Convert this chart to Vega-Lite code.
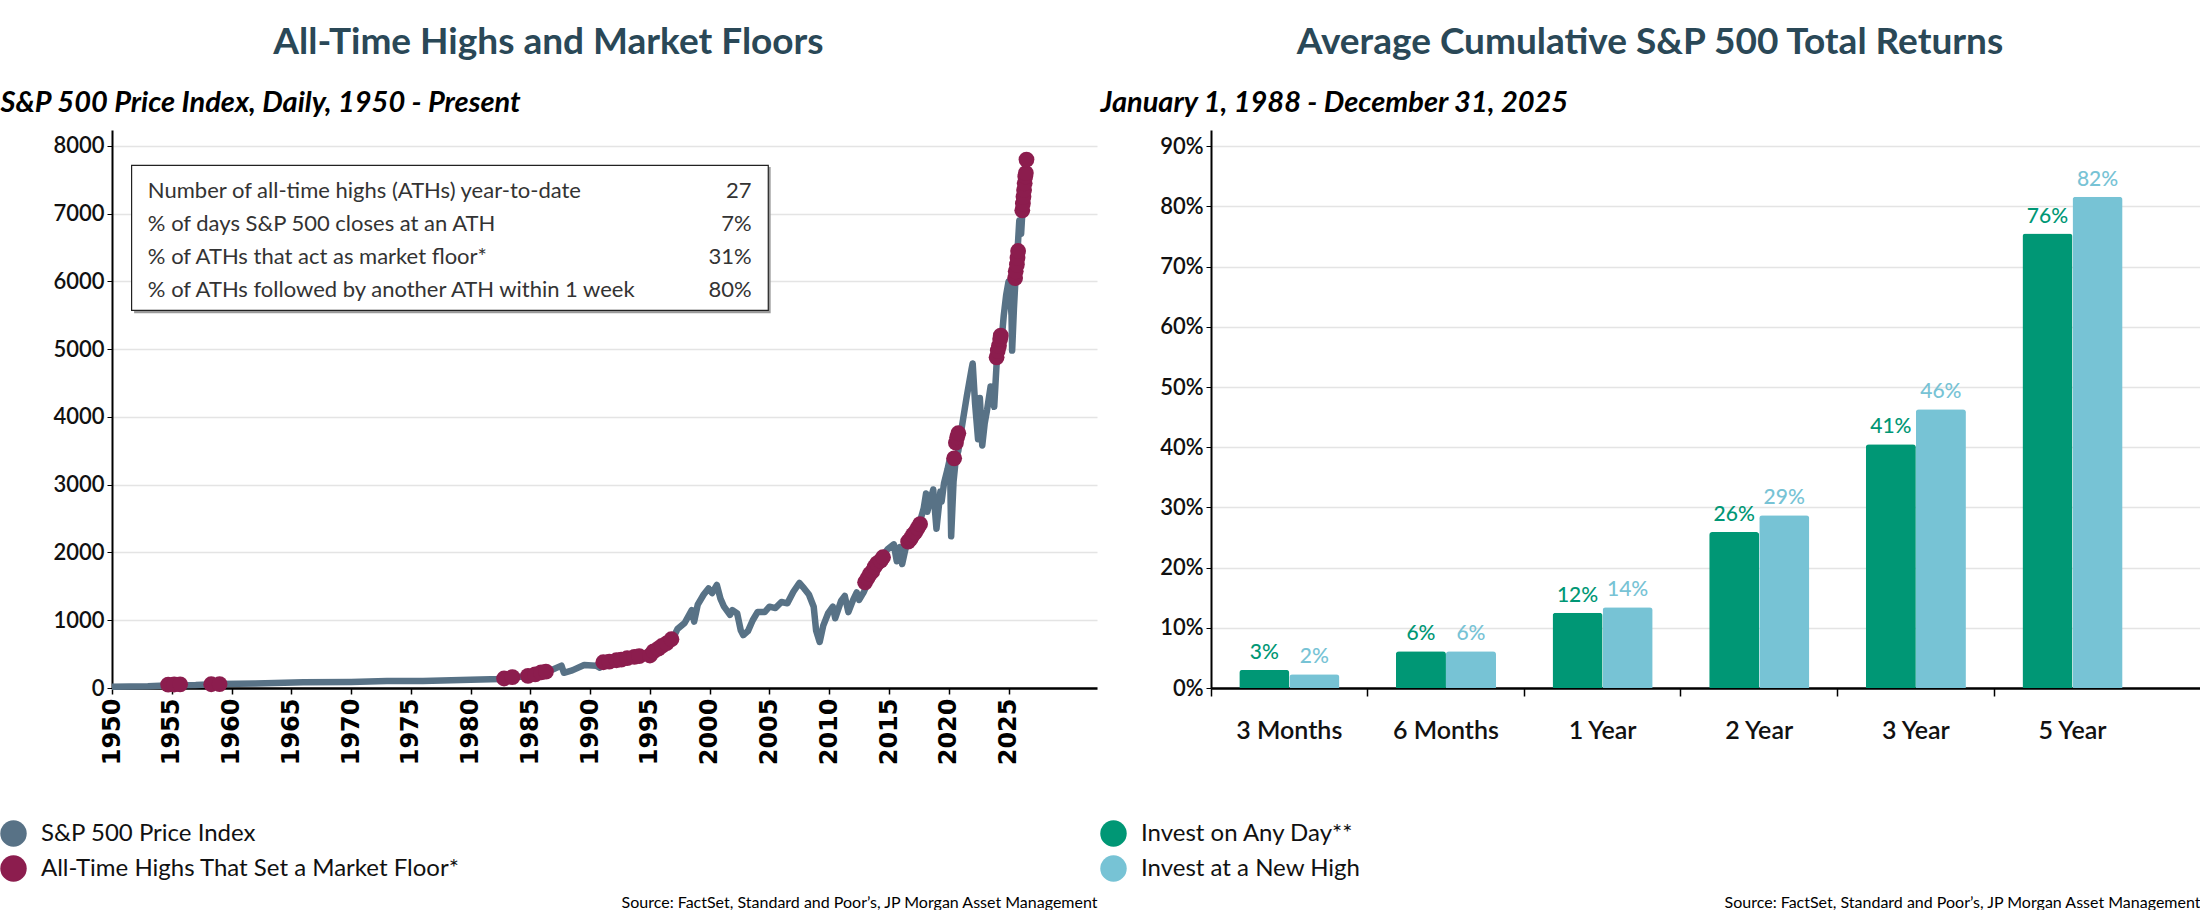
{
  "$schema": "https://vega.github.io/schema/vega-lite/v6.json",
  "padding": {"left": 0, "right": 0, "top": 24, "bottom": 0},
  "background": "white",
  "spacing": 3,
  "config": {
    "font": "Lato",
    "view": {"stroke": null},
    "axis": {"gridColor": "#e4e4e4", "gridWidth": 1.5, "domainColor": "#000", "tickColor": "#000", "labelColor": "#111", "titleColor": "#000"},
    "legend": {"padding": 0},
    "title": {"font": "Lato", "fontSize": 37, "fontWeight": "bold", "color": "#2a4857", "anchor": "middle", "frame": "bounds", "offset": 26}
  },
  "datasets": {
    "spx": [
      {"year": 1950.0, "value": 17}, {"year": 1953.0, "value": 25}, {"year": 1955.0, "value": 42}, {"year": 1957.0, "value": 45},
      {"year": 1959.0, "value": 58}, {"year": 1962.0, "value": 65}, {"year": 1966.0, "value": 85}, {"year": 1970.0, "value": 90},
      {"year": 1973.0, "value": 105}, {"year": 1976.0, "value": 105}, {"year": 1980.0, "value": 120}, {"year": 1982.5, "value": 132},
      {"year": 1983.5, "value": 165}, {"year": 1984.5, "value": 165}, {"year": 1985.0, "value": 180}, {"year": 1985.9, "value": 240},
      {"year": 1986.5, "value": 245}, {"year": 1987.6, "value": 330}, {"year": 1987.8, "value": 225}, {"year": 1988.5, "value": 260},
      {"year": 1989.5, "value": 340}, {"year": 1990.5, "value": 330}, {"year": 1990.8, "value": 300}, {"year": 1991.2, "value": 370},
      {"year": 1992.0, "value": 410}, {"year": 1993.0, "value": 450}, {"year": 1994.0, "value": 470}, {"year": 1994.9, "value": 460},
      {"year": 1995.5, "value": 560}, {"year": 1996.0, "value": 620}, {"year": 1996.5, "value": 680}, {"year": 1997.0, "value": 760},
      {"year": 1997.3, "value": 870}, {"year": 1997.9, "value": 960}, {"year": 1998.5, "value": 1150}, {"year": 1998.7, "value": 980},
      {"year": 1999.0, "value": 1230}, {"year": 1999.5, "value": 1380}, {"year": 1999.9, "value": 1470}, {"year": 2000.2, "value": 1400},
      {"year": 2000.6, "value": 1520}, {"year": 2000.9, "value": 1320}, {"year": 2001.2, "value": 1200}, {"year": 2001.7, "value": 1080},
      {"year": 2001.9, "value": 1150}, {"year": 2002.3, "value": 1100}, {"year": 2002.6, "value": 850}, {"year": 2002.8, "value": 780},
      {"year": 2003.2, "value": 840}, {"year": 2003.6, "value": 1000}, {"year": 2004.0, "value": 1120}, {"year": 2004.6, "value": 1120},
      {"year": 2005.0, "value": 1200}, {"year": 2005.5, "value": 1180}, {"year": 2006.0, "value": 1270}, {"year": 2006.5, "value": 1250},
      {"year": 2007.0, "value": 1420}, {"year": 2007.5, "value": 1550}, {"year": 2007.9, "value": 1470}, {"year": 2008.3, "value": 1380},
      {"year": 2008.7, "value": 1200}, {"year": 2008.9, "value": 850}, {"year": 2009.2, "value": 680}, {"year": 2009.5, "value": 920},
      {"year": 2009.9, "value": 1100}, {"year": 2010.3, "value": 1200}, {"year": 2010.5, "value": 1030}, {"year": 2011.0, "value": 1290},
      {"year": 2011.3, "value": 1360}, {"year": 2011.6, "value": 1120}, {"year": 2012.0, "value": 1300}, {"year": 2012.3, "value": 1410},
      {"year": 2012.5, "value": 1300}, {"year": 2012.9, "value": 1420}, {"year": 2013.3, "value": 1580}, {"year": 2013.6, "value": 1700},
      {"year": 2014.0, "value": 1850}, {"year": 2014.5, "value": 1960}, {"year": 2014.9, "value": 2050}, {"year": 2015.4, "value": 2120},
      {"year": 2015.65, "value": 1870}, {"year": 2015.9, "value": 2080}, {"year": 2016.1, "value": 1830}, {"year": 2016.5, "value": 2150},
      {"year": 2017.0, "value": 2270}, {"year": 2017.5, "value": 2400}, {"year": 2017.9, "value": 2650}, {"year": 2018.1, "value": 2870},
      {"year": 2018.2, "value": 2600}, {"year": 2018.7, "value": 2930}, {"year": 2018.97, "value": 2350}, {"year": 2019.3, "value": 2900},
      {"year": 2019.4, "value": 2750}, {"year": 2019.6, "value": 3020}, {"year": 2019.9, "value": 3230}, {"year": 2020.1, "value": 3390},
      {"year": 2020.2, "value": 2240}, {"year": 2020.4, "value": 3050}, {"year": 2020.6, "value": 3400}, {"year": 2020.8, "value": 3500},
      {"year": 2021.0, "value": 3750}, {"year": 2021.2, "value": 3970}, {"year": 2021.5, "value": 4300}, {"year": 2021.9, "value": 4700},
      {"year": 2022.0, "value": 4790}, {"year": 2022.2, "value": 4200}, {"year": 2022.45, "value": 3670}, {"year": 2022.6, "value": 4280},
      {"year": 2022.8, "value": 3580}, {"year": 2023.0, "value": 3900}, {"year": 2023.2, "value": 4100}, {"year": 2023.5, "value": 4450},
      {"year": 2023.8, "value": 4150}, {"year": 2024.0, "value": 4780}, {"year": 2024.1, "value": 5000}, {"year": 2024.25, "value": 5200},
      {"year": 2024.4, "value": 5100}, {"year": 2024.6, "value": 5500}, {"year": 2024.8, "value": 5800}, {"year": 2025.0, "value": 6000},
      {"year": 2025.1, "value": 5900}, {"year": 2025.25, "value": 5500}, {"year": 2025.3, "value": 4980}, {"year": 2025.45, "value": 5600},
      {"year": 2025.6, "value": 6100}, {"year": 2025.75, "value": 6450}, {"year": 2025.9, "value": 6900}, {"year": 2026.05, "value": 6700},
      {"year": 2026.15, "value": 7000}, {"year": 2026.3, "value": 7400}, {"year": 2026.45, "value": 7800}, {"year": 2026.55, "value": 7300},
      {"year": 2026.6, "value": 7450}
    ],
    "ath": [
      {"year": 1954.7, "value": 50, "series": "All-Time Highs That Set a Market Floor*"},
      {"year": 1955.2, "value": 52, "series": "All-Time Highs That Set a Market Floor*"},
      {"year": 1955.7, "value": 54, "series": "All-Time Highs That Set a Market Floor*"},
      {"year": 1958.3, "value": 55, "series": "All-Time Highs That Set a Market Floor*"},
      {"year": 1959.0, "value": 58, "series": "All-Time Highs That Set a Market Floor*"},
      {"year": 1982.8, "value": 140, "series": "All-Time Highs That Set a Market Floor*"},
      {"year": 1983.5, "value": 160, "series": "All-Time Highs That Set a Market Floor*"},
      {"year": 1984.8, "value": 180, "series": "All-Time Highs That Set a Market Floor*"},
      {"year": 1985.4, "value": 200, "series": "All-Time Highs That Set a Market Floor*"},
      {"year": 1985.9, "value": 230, "series": "All-Time Highs That Set a Market Floor*"},
      {"year": 1986.3, "value": 242, "series": "All-Time Highs That Set a Market Floor*"},
      {"year": 1991.1, "value": 380, "series": "All-Time Highs That Set a Market Floor*"},
      {"year": 1991.6, "value": 390, "series": "All-Time Highs That Set a Market Floor*"},
      {"year": 1992.2, "value": 410, "series": "All-Time Highs That Set a Market Floor*"},
      {"year": 1992.6, "value": 420, "series": "All-Time Highs That Set a Market Floor*"},
      {"year": 1993.1, "value": 440, "series": "All-Time Highs That Set a Market Floor*"},
      {"year": 1993.7, "value": 460, "series": "All-Time Highs That Set a Market Floor*"},
      {"year": 1994.1, "value": 470, "series": "All-Time Highs That Set a Market Floor*"},
      {"year": 1995.0, "value": 480, "series": "All-Time Highs That Set a Market Floor*"},
      {"year": 1995.3, "value": 540, "series": "All-Time Highs That Set a Market Floor*"},
      {"year": 1995.7, "value": 580, "series": "All-Time Highs That Set a Market Floor*"},
      {"year": 1996.0, "value": 620, "series": "All-Time Highs That Set a Market Floor*"},
      {"year": 1996.4, "value": 660, "series": "All-Time Highs That Set a Market Floor*"},
      {"year": 1996.8, "value": 720, "series": "All-Time Highs That Set a Market Floor*"},
      {"year": 2013.0, "value": 1560, "series": "All-Time Highs That Set a Market Floor*"},
      {"year": 2013.2, "value": 1620, "series": "All-Time Highs That Set a Market Floor*"},
      {"year": 2013.4, "value": 1680, "series": "All-Time Highs That Set a Market Floor*"},
      {"year": 2013.6, "value": 1720, "series": "All-Time Highs That Set a Market Floor*"},
      {"year": 2013.8, "value": 1790, "series": "All-Time Highs That Set a Market Floor*"},
      {"year": 2014.0, "value": 1840, "series": "All-Time Highs That Set a Market Floor*"},
      {"year": 2014.3, "value": 1880, "series": "All-Time Highs That Set a Market Floor*"},
      {"year": 2014.5, "value": 1930, "series": "All-Time Highs That Set a Market Floor*"},
      {"year": 2016.6, "value": 2160, "series": "All-Time Highs That Set a Market Floor*"},
      {"year": 2016.8, "value": 2200, "series": "All-Time Highs That Set a Market Floor*"},
      {"year": 2017.0, "value": 2260, "series": "All-Time Highs That Set a Market Floor*"},
      {"year": 2017.2, "value": 2300, "series": "All-Time Highs That Set a Market Floor*"},
      {"year": 2017.4, "value": 2360, "series": "All-Time Highs That Set a Market Floor*"},
      {"year": 2017.6, "value": 2420, "series": "All-Time Highs That Set a Market Floor*"},
      {"year": 2020.45, "value": 3390, "series": "All-Time Highs That Set a Market Floor*"},
      {"year": 2020.6, "value": 3620, "series": "All-Time Highs That Set a Market Floor*"},
      {"year": 2020.7, "value": 3700, "series": "All-Time Highs That Set a Market Floor*"},
      {"year": 2020.8, "value": 3760, "series": "All-Time Highs That Set a Market Floor*"},
      {"year": 2024.0, "value": 4880, "series": "All-Time Highs That Set a Market Floor*"},
      {"year": 2024.1, "value": 4980, "series": "All-Time Highs That Set a Market Floor*"},
      {"year": 2024.2, "value": 5050, "series": "All-Time Highs That Set a Market Floor*"},
      {"year": 2024.3, "value": 5150, "series": "All-Time Highs That Set a Market Floor*"},
      {"year": 2024.35, "value": 5200, "series": "All-Time Highs That Set a Market Floor*"},
      {"year": 2025.55, "value": 6050, "series": "All-Time Highs That Set a Market Floor*"},
      {"year": 2025.6, "value": 6150, "series": "All-Time Highs That Set a Market Floor*"},
      {"year": 2025.7, "value": 6250, "series": "All-Time Highs That Set a Market Floor*"},
      {"year": 2025.75, "value": 6350, "series": "All-Time Highs That Set a Market Floor*"},
      {"year": 2025.8, "value": 6450, "series": "All-Time Highs That Set a Market Floor*"},
      {"year": 2026.15, "value": 7050, "series": "All-Time Highs That Set a Market Floor*"},
      {"year": 2026.2, "value": 7150, "series": "All-Time Highs That Set a Market Floor*"},
      {"year": 2026.25, "value": 7250, "series": "All-Time Highs That Set a Market Floor*"},
      {"year": 2026.3, "value": 7350, "series": "All-Time Highs That Set a Market Floor*"},
      {"year": 2026.35, "value": 7450, "series": "All-Time Highs That Set a Market Floor*"},
      {"year": 2026.4, "value": 7550, "series": "All-Time Highs That Set a Market Floor*"},
      {"year": 2026.45, "value": 7600, "series": "All-Time Highs That Set a Market Floor*"},
      {"year": 2026.5, "value": 7800, "series": "All-Time Highs That Set a Market Floor*"}
    ],
    "stats": [
      {"rank": 1, "stat": "Number of all-time highs (ATHs) year-to-date", "figure": "27"},
      {"rank": 2, "stat": "% of days S&P 500 closes at an ATH", "figure": "7%"},
      {"rank": 3, "stat": "% of ATHs that act as market floor*", "figure": "31%"},
      {"rank": 4, "stat": "% of ATHs followed by another ATH within 1 week", "figure": "80%"}
    ],
    "returns": [
      {"period": "3 Months", "strategy": "Invest on Any Day**", "ret": 0.030, "label": "3%"},
      {"period": "3 Months", "strategy": "Invest at a New High", "ret": 0.023, "label": "2%"},
      {"period": "6 Months", "strategy": "Invest on Any Day**", "ret": 0.061, "label": "6%"},
      {"period": "6 Months", "strategy": "Invest at a New High", "ret": 0.061, "label": "6%"},
      {"period": "1 Year", "strategy": "Invest on Any Day**", "ret": 0.125, "label": "12%"},
      {"period": "1 Year", "strategy": "Invest at a New High", "ret": 0.134, "label": "14%"},
      {"period": "2 Year", "strategy": "Invest on Any Day**", "ret": 0.259, "label": "26%"},
      {"period": "2 Year", "strategy": "Invest at a New High", "ret": 0.287, "label": "29%"},
      {"period": "3 Year", "strategy": "Invest on Any Day**", "ret": 0.405, "label": "41%"},
      {"period": "3 Year", "strategy": "Invest at a New High", "ret": 0.463, "label": "46%"},
      {"period": "5 Year", "strategy": "Invest on Any Day**", "ret": 0.755, "label": "76%"},
      {"period": "5 Year", "strategy": "Invest at a New High", "ret": 0.816, "label": "82%"}
    ]
  },
  "hconcat": [
    {
      "title": {"text": "All-Time Highs and Market Floors"},
      "width": 985,
      "height": 558,
      "layer": [
        {
          "data": {"values": [{"box": "stats"}]},
          "mark": {"type": "rect", "fill": "#9a9a9a"},
          "encoding": {
            "x": {"datum": 1951.85, "type": "quantitative", "scale": {"domain": [1950, 2032.4], "nice": false, "zero": false}, "axis": null},
            "x2": {"datum": 2005.1},
            "y": {"datum": 7690, "type": "quantitative", "scale": {"domain": [0, 8236], "nice": false, "zero": false}, "axis": null},
            "y2": {"datum": 5530}
          }
        },
        {
          "data": {"values": [{"box": "stats"}]},
          "mark": {"type": "rect", "fill": "white", "stroke": "#222", "strokeWidth": 1.2},
          "encoding": {
            "x": {"datum": 1951.64, "type": "quantitative", "scale": {"domain": [1950, 2032.4], "nice": false, "zero": false}, "axis": null},
            "x2": {"datum": 2004.9},
            "y": {"datum": 7714, "type": "quantitative", "scale": {"domain": [0, 8236], "nice": false, "zero": false}, "axis": null},
            "y2": {"datum": 5575}
          }
        },
        {
          "data": {"name": "spx"},
          "mark": {"type": "line", "color": "#587286", "strokeWidth": 6.5, "strokeJoin": "round"},
          "encoding": {
            "x": {
              "field": "year", "type": "quantitative",
              "scale": {"domain": [1950, 2032.4], "nice": false, "zero": false},
              "axis": {
                "values": [1950, 1955, 1960, 1965, 1970, 1975, 1980, 1985, 1990, 1995, 2000, 2005, 2010, 2015, 2020, 2025],
                "format": "d", "labelAngle": 270, "labelFont": "DejaVu Sans", "labelFontWeight": "bold", "labelFontSize": 24,
                "labelColor": "#000", "tickSize": 6, "tickWidth": 1.5, "domainWidth": 2.5, "grid": false, "labelPadding": 4,
                "title": "Source: FactSet, Standard and Poor’s, JP Morgan Asset Management",
                "titleAnchor": "end", "titleAlign": "right", "titleBaseline": "middle", "titleY": 214,
                "titleFontSize": 16, "titleFontWeight": "normal", "titleColor": "#000"
              }
            },
            "y": {
              "field": "value", "type": "quantitative",
              "scale": {"domain": [0, 8236], "nice": false, "zero": false},
              "axis": {
                "values": [0, 1000, 2000, 3000, 4000, 5000, 6000, 7000, 8000], "format": "d",
                "labelFontSize": 22, "labelFontWeight": 600, "labelColor": "#111", "tickSize": 5, "labelPadding": 3,
                "domainWidth": 2, "grid": true,
                "title": "S&P 500 Price Index, Daily, 1950 - Present",
                "titleAngle": 0, "titleAlign": "left", "titleBaseline": "alphabetic", "titleX": -112, "titleY": -19,
                "titleFontSize": 29, "titleFontStyle": "italic", "titleFontWeight": "bold", "titleColor": "#000"
              }
            }
          }
        },
        {
          "data": {"name": "ath"},
          "mark": {"type": "circle", "size": 250, "opacity": 1},
          "encoding": {
            "x": {"field": "year", "type": "quantitative", "scale": {"domain": [1950, 2032.4], "nice": false, "zero": false}, "axis": null},
            "y": {"field": "value", "type": "quantitative", "scale": {"domain": [0, 8236], "nice": false, "zero": false}, "axis": null},
            "color": {
              "field": "series", "type": "nominal",
              "scale": {"domain": ["S&P 500 Price Index", "All-Time Highs That Set a Market Floor*"], "range": ["#587286", "#8c1d4e"]},
              "legend": {
                "orient": "none", "legendX": -112, "legendY": 690, "title": null, "symbolType": "circle",
                "symbolSize": 700, "labelFontSize": 24, "labelColor": "#111", "labelOffset": 14, "rowPadding": 8,
                "symbolStrokeWidth": 0, "labelLimit": 700
              }
            }
          }
        },
        {
          "data": {"name": "stats"},
          "mark": {"type": "text", "align": "left", "baseline": "middle", "fontSize": 22, "color": "#333"},
          "encoding": {
            "x": {"datum": 1953.0, "type": "quantitative", "scale": {"domain": [1950, 2032.4], "nice": false, "zero": false}, "axis": null},
            "y": {"field": "rank", "type": "quantitative", "scale": {"domain": [-0.848, 16.06], "reverse": true, "nice": false, "zero": false}, "axis": null},
            "text": {"field": "stat"}
          }
        },
        {
          "data": {"name": "stats"},
          "mark": {"type": "text", "align": "right", "baseline": "middle", "fontSize": 22, "color": "#333"},
          "encoding": {
            "x": {"datum": 2003.5, "type": "quantitative", "scale": {"domain": [1950, 2032.4], "nice": false, "zero": false}, "axis": null},
            "y": {"field": "rank", "type": "quantitative", "scale": {"domain": [-0.848, 16.06], "reverse": true, "nice": false, "zero": false}, "axis": null},
            "text": {"field": "figure"}
          }
        }
      ],
      "resolve": {"scale": {"x": "independent", "y": "independent"}}
    },
    {
      "title": {"text": "Average Cumulative S&P 500 Total Returns"},
      "width": 989,
      "height": 558,
      "data": {"name": "returns"},
      "encoding": {
        "xOffset": {"field": "strategy", "sort": ["Invest on Any Day**", "Invest at a New High"], "scale": {"paddingInner": 0, "paddingOuter": 0.565}},
        "y": {
          "field": "ret", "type": "quantitative",
          "scale": {"domain": [0, 0.927], "nice": false},
          "axis": {
            "values": [0, 0.1, 0.2, 0.3, 0.4, 0.5, 0.6, 0.7, 0.8, 0.9], "format": ".0%",
            "labelFontSize": 22, "labelFontWeight": 600, "labelColor": "#111", "tickSize": 5, "labelPadding": 3,
            "domainWidth": 2, "grid": true,
            "title": "January 1, 1988 - December 31, 2025",
            "titleAngle": 0, "titleAlign": "left", "titleBaseline": "alphabetic", "titleX": -111, "titleY": -19,
            "titleFontSize": 29, "titleFontStyle": "italic", "titleFontWeight": "bold", "titleColor": "#000"
          }
        }
      },
      "layer": [
        {
          "mark": {"type": "bar", "cornerRadiusTopLeft": 3, "cornerRadiusTopRight": 3},
          "encoding": {
            "x": {
              "field": "period", "type": "nominal",
              "sort": ["3 Months", "6 Months", "1 Year", "2 Year", "3 Year", "5 Year"],
              "scale": {"paddingInner": 0, "paddingOuter": 0.157, "align": 0},
              "axis": {
                "orient": "bottom", "ticks": false, "labelFontSize": 25, "labelFontWeight": 600, "labelColor": "#111",
                "labelPadding": 30, "labelAngle": 0, "domainWidth": 2.5,
                "title": "Source: FactSet, Standard and Poor’s, JP Morgan Asset Management",
                "titleAnchor": "end", "titleAlign": "right", "titleBaseline": "middle", "titleY": 214,
                "titleFontSize": 16, "titleFontWeight": "normal", "titleColor": "#000"
              }
            },
            "color": {
              "field": "strategy", "type": "nominal",
              "scale": {"domain": ["Invest on Any Day**", "Invest at a New High"], "range": ["#009775", "#77c3d5"]},
              "legend": {
                "orient": "none", "legendX": -111, "legendY": 690, "title": null, "symbolType": "circle",
                "symbolSize": 700, "labelFontSize": 24, "labelColor": "#111", "labelOffset": 14, "rowPadding": 8,
                "symbolStrokeWidth": 0, "labelLimit": 700
              }
            }
          }
        },
        {
          "mark": {"type": "text", "baseline": "alphabetic", "dy": -11, "fontSize": 21, "fontWeight": 500},
          "encoding": {
            "x": {
              "field": "period", "type": "nominal",
              "sort": ["3 Months", "6 Months", "1 Year", "2 Year", "3 Year", "5 Year"],
              "scale": {"paddingInner": 0, "paddingOuter": 0.157, "align": 0},
              "axis": {"orient": "bottom", "labels": false, "ticks": true, "tickSize": 8, "tickWidth": 1.5, "bandPosition": 0, "domain": false, "title": null, "grid": false}
            },
            "text": {"field": "label"},
            "color": {"condition": {"test": "datum.strategy === 'Invest on Any Day**'", "value": "#009775"}, "value": "#77c3d5"}
          }
        }
      ],
      "resolve": {"axis": {"x": "independent"}}
    }
  ],
  "resolve": {"scale": {"color": "independent"}, "legend": {"color": "independent"}}
}
